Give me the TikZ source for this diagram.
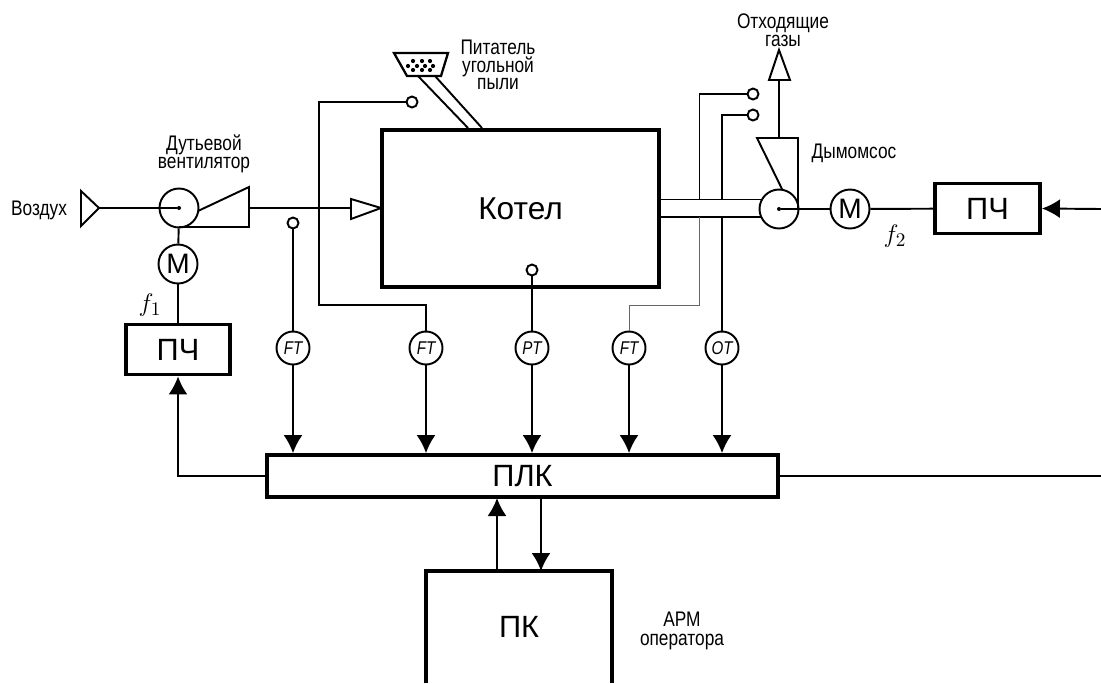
\documentclass[tikz,border=0pt]{standalone}
\usepackage{fontspec}
\setmainfont{Liberation Sans}
\newfontfamily\narrowfont[FakeStretch=0.82]{Liberation Sans}
\usetikzlibrary{arrows.meta}
\tikzset{
  pipe/.style={line width=1.1pt},
  thinpipe/.style={line width=0.4pt,black!60},
  signal/.style={line width=1.1pt,-{Latex[length=0.36cm,width=0.38cm]}},
  heavybox/.style={draw,line width=2.2pt,inner sep=0pt},
  machine/.style={circle,draw,line width=1.1pt,minimum size=0.78cm,inner sep=0pt},
  sensor/.style={circle,draw,line width=1.1pt,minimum size=0.66cm,inner sep=0pt,font=\narrowfont\itshape\fontsize{10.5}{10}\selectfont},
  terminal/.style={circle,draw,line width=1.1pt,minimum size=0.22cm,inner sep=0pt},
  hub/.style={circle,fill=black,minimum size=0.08cm,inner sep=0pt},
  caption/.style={font=\narrowfont\fontsize{12}{10}\selectfont,align=center,inner sep=0pt}
}
\begin{document}
\begin{tikzpicture}[x=0.02cm,y=-0.02cm]
  \useasboundingbox (0,0) rectangle (1101,683);
  % boxes
  \node[heavybox,minimum width=5.54cm,minimum height=3.14cm,font=\fontsize{18}{18}\selectfont] (boiler) at (520.5,208.5) {Котел};
  \node[heavybox,minimum width=2.08cm,minimum height=1cm,font=\fontsize{17.5}{17}\selectfont] (vfdleft) at (178,349.5) {ПЧ};
  \node[heavybox,minimum width=2.1cm,minimum height=1cm,font=\fontsize{17.5}{17}\selectfont] (vfdright) at (987.5,208.5) {ПЧ};
  \node[heavybox,minimum width=10.22cm,minimum height=0.84cm,font=\fontsize{17.5}{17}\selectfont] (plc) at (522.5,476) {ПЛК};
  \node[minimum width=3.72cm,minimum height=2.24cm,inner sep=0pt,font=\fontsize{17.5}{17}\selectfont] (pc) at (519,627) {ПК};
  \draw[line width=2.2pt] (pc.south west) -- (pc.north west) -- (pc.north east) -- (pc.south east);
  % fan, motors
  \node[machine] (fanleft) at (179,208) {};
  \node[hub] (hubleft) at (179,208) {};
  \node[machine] (fanright) at (779,209) {};
  \node[hub] (hubright) at (779,209) {};
  \node[machine,font=\fontsize{16}{16}\selectfont] (motorleft) at (178,264) {М};
  \node[machine,font=\fontsize{16}{16}\selectfont] (motorright) at (850,209) {М};
  % sensors
  \node[sensor] (ftair) at (293,348) {FT};
  \node[sensor] (ftcoal) at (426,348) {FT};
  \node[sensor] (ptboiler) at (532,348) {PT};
  \node[sensor] (ftgas) at (629,348) {FT};
  \node[sensor] (otgas) at (722,348) {OT};
  \node[terminal] (tair) at (293,223) {};
  \node[terminal] (tcoal) at (412,102) {};
  \node[terminal] (tboiler) at (532,270) {};
  \node[terminal] (tgasone) at (753,94) {};
  \node[terminal] (tgastwo) at (753,115) {};
  % inlet and outlets
  \coordinate (airtip) at (99,208);
  \coordinate (boilertip) at (381,208);
  \coordinate (gastip) at (779,80);
  \draw[pipe] (81,191) -- (airtip) -- (81,226) -- cycle;
  \draw[pipe] (351,199) -- (boilertip) -- (351,219) -- cycle;
  \draw[pipe] (769,80) -- (779,50) -- (790,80) -- cycle;
  \draw[pipe] (airtip) -- (hubleft);
  \draw[pipe] (198,211) -- (249,187) -- (249,227) -- (179,227);
  \draw[pipe] (249,208) -- (351,208);
  \draw[pipe] (fanleft) -- (motorleft);
  \draw[pipe] (motorleft) -- (vfdleft.north -| motorleft);
  \draw[pipe] (782,189) -- (757,138) -- (798,138) -- (798,209);
  \draw[pipe] (gastip) -- (779,138);
  \draw[pipe] (hubright) -- (motorright);
  \draw[pipe] (motorright) -- (vfdright);
  % gas duct
  \draw[pipe] (boiler.east |- 0,199.5) -- (761,199.5);
  \draw[pipe] (boiler.east |- 0,217) -- (761,217);
  % coal feeder
  \draw[pipe,line width=1.3pt] (394,53) -- (448,53) -- (441,76) -- (407,76) -- cycle;
  \foreach \px in {413,422,430} {
    \fill (\px,61) circle (2.1);
    \fill (\px,70) circle (2.1);
  }
  \foreach \px in {408,417,425,433}
    \fill (\px,66) circle (2.1);
  \draw[pipe] (418,76) -- (468,128);
  \draw[pipe] (435,76) -- (482,128);
  % sensor lines
  \draw[pipe] (tair) -- (ftair);
  \draw[pipe] (tcoal) -- (319,102) -- (319,305) -- (426,305) -- (ftcoal);
  \draw[pipe] (tboiler) -- (ptboiler);
  \draw[pipe] (tgasone) -- (699.5,94) -- (699.5,199.5);
  \draw[thinpipe] (699.5,217) -- (699.5,305) -- (629,305) -- (ftgas);
  \draw[pipe] (tgastwo) -- (722,115) -- (722,199.5);
  \draw[pipe] (722,217) -- (otgas);
  % signals
  \foreach \sname in {ftair,ftcoal,ptboiler,ftgas,otgas}
    \draw[signal] (\sname) -- (\sname |- plc.north);
  \draw[signal] (plc.west) -- (178,476) -- (vfdleft.south -| 178,0);
  \draw[pipe] (plc.east) -- (1101,476);
  \draw[signal] (1101,209) -- (vfdright.east);
  \draw[signal] (497,571) -- (497,498);
  \draw[signal] (541,498) -- (541,571);
  % labels
  \node[caption] (lblair) at (39,210) {Воздух};
  \node[caption] (lblfan) at (204,154) {Дутьевой\\вентилятор};
  \node[caption] (lblfeed) at (498,65) {Питатель\\угольной\\пыли};
  \node[caption] (lblgas) at (783,30) {Отходящие\\газы};
  \node[caption] (lblsmoke) at (854,153) {Дымомсос};
  \node[caption,font=\narrowfont\fontsize{12}{10.8}\selectfont] (lblarm) at (682,631) {АРМ\\оператора};
  \node[inner sep=0pt] (lblfone) at (150,305) {\fontsize{15}{15}\selectfont$f_1$};
  \node[inner sep=0pt] (lblftwo) at (895,236) {\fontsize{15}{15}\selectfont$f_2$};
\end{tikzpicture}
\end{document}
